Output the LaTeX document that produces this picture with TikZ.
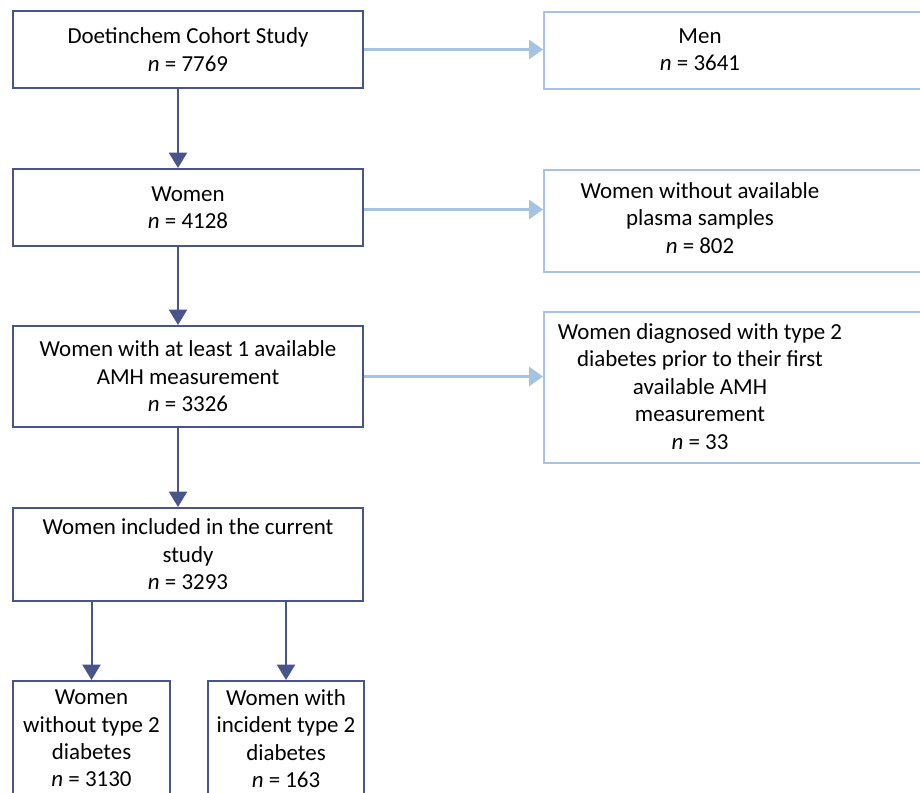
\documentclass[tikz,border=0pt]{standalone}
\usepackage{fontspec}
\setmainfont{Carlito}
\usetikzlibrary{arrows.meta,calc}
\definecolor{darkc}{RGB}{71,85,140}
\definecolor{lightc}{RGB}{166,195,227}
\begin{document}
\begin{tikzpicture}[x=0.75pt,y=-0.75pt,
  txt/.style={align=center,font=\fontsize{17.2}{20.6}\selectfont,inner sep=0pt},
  dbox/.style={draw=darkc,line width=1.5pt,txt,minimum width=262.5pt},
  lbox/.style={draw=lightc,line width=1.5pt,inner sep=0pt},
  darr/.style={draw=darkc,line width=1.5pt,-{Triangle[length=11.5pt,width=13.5pt]}},
  larr/.style={draw=lightc,line width=1.7pt,-{Triangle[length=10.5pt,width=14.5pt]}}]
\useasboundingbox (0,0) rectangle (920,792);
\clip (0,0) rectangle (920,792);
% left column
\node[dbox,minimum height=57.75pt] (b1) at (188,49.5) {Doetinchem Cohort Study\\\textit{n} = 7769};
\node[dbox,minimum height=57.75pt] (b2) at (188,207.5) {Women\\\textit{n} = 4128};
\node[dbox,minimum height=75.75pt] (b3) at (188,376.5) {Women with at least 1 available\\AMH measurement\\\textit{n} = 3326};
\node[dbox,minimum height=69.75pt] (b4) at (188,554.5) {Women included in the current\\study\\\textit{n} = 3293};
\node[dbox,minimum width=117.75pt,minimum height=86.25pt] (bl) at (91.5,738.5) {Women\\without type 2\\diabetes\\\textit{n} = 3130};
\node[dbox,minimum width=117pt,minimum height=86.25pt] (br) at (286,738.5) {Women with\\incident type 2\\diabetes\\\textit{n} = 163};
% right column boxes
\node[lbox,anchor=north west,minimum width=300pt,minimum height=57.75pt] (men) at (543,11) {};
\node[txt] (menT) at (700,49.5) {Men\\\textit{n} = 3641};
\node[lbox,anchor=north west,minimum width=300pt,minimum height=76.5pt] (pl) at (543,169) {};
\node[txt] (plT) at (700,218) {Women without available\\plasma samples\\\textit{n} = 802};
\node[lbox,anchor=north west,minimum width=300pt,minimum height=113.25pt] (dg) at (543,311) {};
\node[txt] (dgT) at (700,386.5) {Women diagnosed with type 2\\diabetes prior to their first\\available AMH\\measurement\\\textit{n} = 33};
% connectors
\draw[larr] (b1.east) -- (b1.east -| men.west);
\draw[larr] ($(b2.east)+(0,2)$) -- ($(b2.east -| pl.west)+(0,2)$);
\draw[larr] (b3.east) -- (b3.east -| dg.west);
\draw[darr] ($(b1.south)+(-10,0)$) -- ($(b2.north)+(-10,0)$);
\draw[darr] ($(b2.south)+(-10,0)$) -- ($(b3.north)+(-10,0)$);
\draw[darr] ($(b3.south)+(-10,0)$) -- ($(b4.north)+(-10,0)$);
\draw[darr] (b4.south -| bl.north) -- (bl.north);
\draw[darr] (b4.south -| br.north) -- (br.north);
\end{tikzpicture}
\end{document}
